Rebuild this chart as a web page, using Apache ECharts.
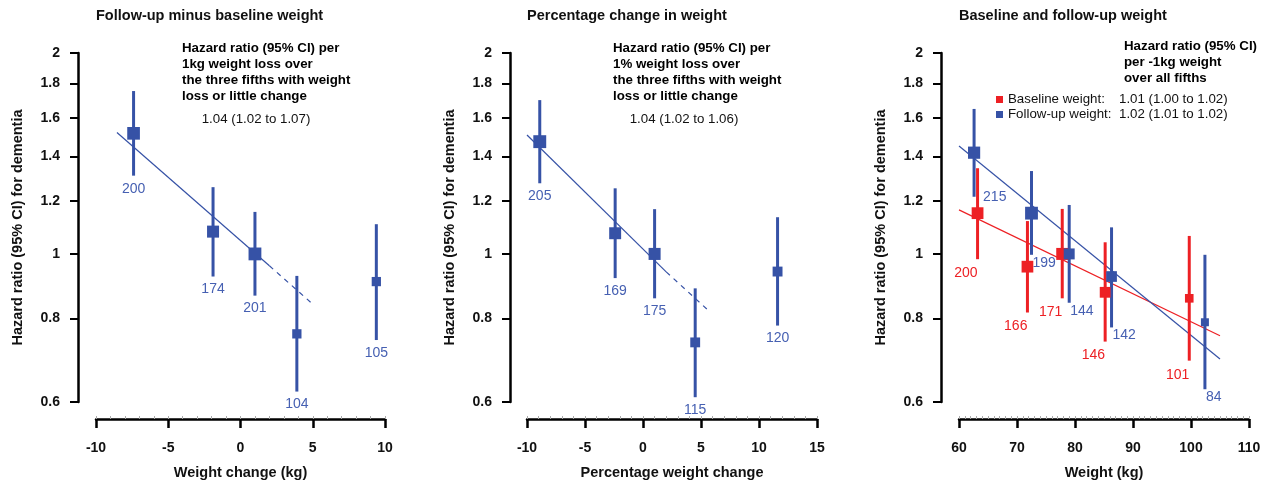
<!DOCTYPE html>
<html>
<head>
<meta charset="utf-8">
<script src="https://cdn.jsdelivr.net/npm/echarts@6/dist/echarts.min.js"></script>
<style>
  html, body { margin: 0; padding: 0; background: #fff; }
  #chart { width: 1267px; height: 486px; }
</style>
</head>
<body>
<div id="chart"></div>
<script>
// panel 1: follow-up minus baseline weight (kg)
const p1X  = [-7.4, -1.9, 1.0, 3.9, 9.4];
const p1HR = [1.516, 1.08, 1.0, 0.759, 0.909];
const p1Lo = [1.31, 0.925, 0.866, 0.622, 0.743];
const p1Hi = [1.754, 1.259, 1.156, 0.927, 1.108];
const p1N  = [200, 174, 201, 104, 105];
const p1FitSolid  = [[-8.55, 1.52], [2.0, 0.96]];
const p1FitDashed = [[2.0, 0.96], [5.05, 0.839]];

// panel 2: percentage change in weight
const p2X  = [-8.9, -2.4, 1.0, 4.5, 11.6];
const p2HR = [1.473, 1.074, 1.0, 0.737, 0.941];
const p2Lo = [1.276, 0.92, 0.858, 0.61, 0.781];
const p2Hi = [1.70, 1.254, 1.167, 0.888, 1.135];
const p2N  = [205, 169, 175, 115, 120];
const p2FitSolid  = [[-10.0, 1.507], [2.0, 0.94]];
const p2FitDashed = [[2.0, 0.94], [5.8, 0.818]];

// panel 3: baseline and follow-up weight (kg)
const p3BaseX  = [63.2, 71.8, 77.8, 85.2, 99.7];
const p3BaseHR = [1.151, 0.957, 1.0, 0.876, 0.858];
const p3BaseLo = [0.982, 0.817, 0.858, 0.739, 0.692];
const p3BaseHi = [1.344, 1.12, 1.168, 1.041, 1.064];
const p3BaseN  = [200, 166, 171, 146, 101];
const p3BaseFit = [[60, 1.164], [105, 0.754]];

const p3FollowX  = [62.6, 72.5, 79.0, 86.3, 102.4];
const p3FollowHR = [1.418, 1.151, 1.0, 0.925, 0.79];
const p3FollowLo = [1.218, 0.997, 0.845, 0.776, 0.627];
const p3FollowHi = [1.649, 1.331, 1.184, 1.096, 0.997];
const p3FollowN  = [215, 199, 144, 142, 84];
const p3FollowFit = [[60, 1.451], [105, 0.696]];

const yTicks = [0.6, 0.8, 1, 1.2, 1.4, 1.6, 1.8, 2];

const BLUE = '#3652a6';
const BLUE_TXT = '#4660b2';
const RED = '#ed2024';
const FONT = '"Liberation Sans", Arial, sans-serif';

function rows(x, hr, lo, hi, n) {
  return x.map((v, i) => [v, hr[i], lo[i], hi[i], n[i]]);
}

// square side follows the precision (1 / log CI width)
function sqSize(val) {
  return 3.7 / Math.log(val[3] / val[2]);
}

// label placement relative to the CI bottom end: [dx, dy, align], per-index overrides
function errorSeries(idx, data, color, txtColor, place, nudge) {
  return {
    type: 'custom',
    xAxisIndex: idx, yAxisIndex: idx,
    data: data,
    z: 3,
    renderItem: function (params, api) {
      const x = api.value(0);
      const top = api.coord([x, api.value(3)]);
      const bot = api.coord([x, api.value(2)]);
      const p = (nudge && nudge[params.dataIndex]) || place;
      return {
        type: 'group',
        children: [
          { type: 'line', shape: { x1: top[0], y1: top[1], x2: bot[0], y2: bot[1] },
            style: { stroke: color, lineWidth: 3 } },
          { type: 'text', x: bot[0] + p[0], y: bot[1] + p[1],
            style: { text: String(api.value(4)), fill: txtColor, font: '14px ' + FONT,
                     align: p[2], verticalAlign: 'middle' } }
        ]
      };
    }
  };
}

function squareSeries(idx, name, data, color) {
  return {
    type: 'scatter', name: name,
    xAxisIndex: idx, yAxisIndex: idx,
    data: data,
    symbol: 'rect',
    symbolSize: sqSize,
    itemStyle: { color: color, opacity: 1 },
    z: 4,
    silent: true
  };
}

function fitSeries(idx, data, color, dashed) {
  return {
    type: 'line',
    xAxisIndex: idx, yAxisIndex: idx,
    data: data,
    showSymbol: false, symbol: 'none',
    lineStyle: { color: color, width: 1.2, type: dashed ? [5, 5] : 'solid' },
    z: 2,
    silent: true
  };
}

const grids = [
  { left: 96, width: 289, top: 53, height: 349 },
  { left: 527, width: 290, top: 53, height: 349 },
  { left: 959, width: 290, top: 53, height: 349 }
];
const xRanges = [[-10, 10, 5, 1], [-10, 15, 5, 1], [60, 110, 10, 1]];
const xNames = ['Weight change (kg)', 'Percentage weight change', 'Weight (kg)'];
const yOffsets = [18, 17, 18];

const xAxes = [];
const yAxes = [];
grids.forEach((g, i) => {
  const r = xRanges[i];
  xAxes.push({
    type: 'value', gridIndex: i, min: r[0], max: r[1], interval: r[2],
    position: 'bottom', offset: 17,
    name: xNames[i], nameLocation: 'middle', nameGap: 46,
    nameTextStyle: { fontFamily: FONT, fontWeight: 'bold', fontSize: 14.5, color: '#111' },
    axisLine: { onZero: false, lineStyle: { color: '#000', width: 2.5 } },
    axisTick: { length: 9, lineStyle: { color: '#000', width: 2.5 } },
    axisLabel: { margin: 22, fontFamily: FONT, fontWeight: 'bold', fontSize: 14, color: '#111' },
    splitLine: { show: false }
  });
  // fine inward ticks
  xAxes.push({
    type: 'value', gridIndex: i, min: r[0], max: r[1], interval: r[3],
    position: 'bottom', offset: 17,
    axisLine: { show: false, onZero: false },
    axisTick: { inside: true, length: 3, lineStyle: { color: '#aaa', width: 1 } },
    axisLabel: { show: false },
    splitLine: { show: false }
  });
  yAxes.push({
    type: 'log', gridIndex: i, min: 0.6, max: 2, logBase: 10,
    position: 'left', offset: yOffsets[i],
    name: 'Hazard ratio (95% CI) for dementia', nameLocation: 'middle', nameGap: 53,
    nameTextStyle: { fontFamily: FONT, fontWeight: 'bold', fontSize: 14.5, color: '#111' },
    axisLine: { show: true, onZero: false, lineStyle: { color: '#000', width: 2.5 } },
    axisTick: { show: true, length: 8, customValues: yTicks, lineStyle: { color: '#000', width: 2 } },
    axisLabel: { margin: 18, customValues: yTicks, fontFamily: FONT, fontWeight: 'bold', fontSize: 14, color: '#111',
                 formatter: v => String(Math.round(v * 10) / 10) },
    splitLine: { show: false },
    minorTick: { show: false }
  });
});

const p1Rows = rows(p1X, p1HR, p1Lo, p1Hi, p1N);
const p2Rows = rows(p2X, p2HR, p2Lo, p2Hi, p2N);
const p3BaseRows = rows(p3BaseX, p3BaseHR, p3BaseLo, p3BaseHi, p3BaseN);
const p3FollowRows = rows(p3FollowX, p3FollowHR, p3FollowLo, p3FollowHi, p3FollowN);

const below = [0, 13, 'center'];

const series = [
  fitSeries(0, p1FitSolid, BLUE, false),
  fitSeries(0, p1FitDashed, BLUE, true),
  errorSeries(0, p1Rows, BLUE, BLUE_TXT, below),
  squareSeries(0, 'p1', p1Rows, BLUE),

  fitSeries(2, p2FitSolid, BLUE, false),
  fitSeries(2, p2FitDashed, BLUE, true),
  errorSeries(2, p2Rows, BLUE, BLUE_TXT, below),
  squareSeries(2, 'p2', p2Rows, BLUE),

  fitSeries(4, p3BaseFit, RED, false),
  fitSeries(4, p3FollowFit, BLUE, false),
  errorSeries(4, p3BaseRows, RED, RED, [0, 14, 'right']),
  squareSeries(4, 'Baseline weight:', p3BaseRows, RED),
  errorSeries(4, p3FollowRows, BLUE, BLUE_TXT, [1, 8, 'left'], { 0: [9, 0, 'left'] }),
  squareSeries(4, 'Follow-up weight:', p3FollowRows, BLUE)
];
// series sit on the labelled x axes (0, 2, 4); y axes are 0, 1, 2
series.forEach(s => { s.yAxisIndex = s.xAxisIndex / 2; });

const p3Estimates = {
  'Baseline weight:': '1.01 (1.00 to 1.02)',
  'Follow-up weight:': '1.02 (1.01 to 1.02)'
};

const chart = echarts.init(document.getElementById('chart'), null, { renderer: 'canvas' });
chart.setOption({
  animation: false,
  backgroundColor: '#fff',
  textStyle: { fontFamily: FONT },
  title: [
    { text: 'Follow-up minus baseline weight', left: 96, top: 8 },
    { text: 'Percentage change in weight', left: 527, top: 8 },
    { text: 'Baseline and follow-up weight', left: 959, top: 8 }
  ].map(t => Object.assign(t, { padding: 0,
    textStyle: { fontFamily: FONT, fontWeight: 'bold', fontSize: 14.5, color: '#111' } })),
  grid: grids,
  xAxis: xAxes,
  yAxis: yAxes,
  legend: {
    data: ['Baseline weight:', 'Follow-up weight:'],
    orient: 'vertical',
    left: 996, top: 93,
    padding: 0,
    itemGap: 2,
    itemWidth: 7, itemHeight: 7,
    icon: 'rect',
    selectedMode: false,
    formatter: name => '{a|' + name + '}{b|' + p3Estimates[name] + '}',
    textStyle: {
      fontFamily: FONT, fontSize: 13.3, color: '#111',
      rich: {
        a: { width: 111, fontFamily: FONT, fontSize: 13.3, color: '#111' },
        b: { fontFamily: FONT, fontSize: 13.3, color: '#111' }
      }
    }
  },
  graphic: [
    { type: 'text', left: 182, top: 40,
      style: { text: 'Hazard ratio (95% CI) per\n1kg weight loss over\nthe three fifths with weight\nloss or little change',
               font: 'bold 13.3px ' + FONT, lineHeight: 16, fill: '#000' } },
    { type: 'text', x: 256, y: 119,
      style: { text: '1.04 (1.02 to 1.07)', font: '13.3px ' + FONT, fill: '#111',
               align: 'center', verticalAlign: 'middle' } },
    { type: 'text', left: 613, top: 40,
      style: { text: 'Hazard ratio (95% CI) per\n1% weight loss over\nthe three fifths with weight\nloss or little change',
               font: 'bold 13.3px ' + FONT, lineHeight: 16, fill: '#000' } },
    { type: 'text', x: 684, y: 119,
      style: { text: '1.04 (1.02 to 1.06)', font: '13.3px ' + FONT, fill: '#111',
               align: 'center', verticalAlign: 'middle' } },
    { type: 'text', left: 1124, top: 38,
      style: { text: 'Hazard ratio (95% CI)\nper -1kg weight\nover all fifths',
               font: 'bold 13.3px ' + FONT, lineHeight: 16, fill: '#000' } }
  ],
  series: series
});
</script>
</body>
</html>
